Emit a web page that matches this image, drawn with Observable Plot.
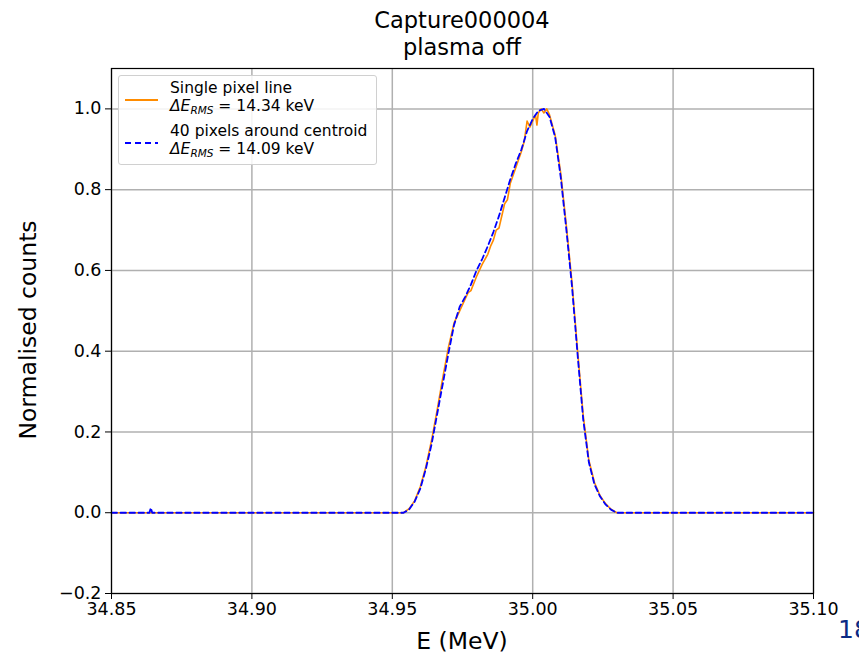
<!DOCTYPE html>
<html><head><meta charset="utf-8">
<script src="https://cdn.jsdelivr.net/npm/d3@7"></script>
<script src="https://cdn.jsdelivr.net/npm/@observablehq/plot@0.6"></script>
<style>
body{margin:0;background:#fff;font-family:"DejaVu Sans",sans-serif;}
#wrap{position:relative;width:859px;height:656px;overflow:hidden;}
.t{position:absolute;white-space:nowrap;color:#000;line-height:1;}
</style></head><body><div id="wrap"></div>
<script>
// Single pixel line (orange)
const singleE = [34.85,34.954,34.956,34.958,34.960,34.962,34.964,34.966,34.968,34.970,34.972,34.974,34.976,34.977,34.978,34.980,34.982,34.984,34.985,34.986,34.987,34.988,34.990,34.991,34.992,34.994,34.996,34.997,34.998,34.999,35.000,35.001,35.0015,35.002,35.003,35.004,35.005,35.006,35.008,35.010,35.012,35.014,35.016,35.018,35.020,35.022,35.024,35.026,35.028,35.030,35.10];
const singleY = [0,0,0.01,0.03,0.065,0.115,0.18,0.255,0.335,0.41,0.47,0.5,0.53,0.545,0.55,0.585,0.615,0.64,0.66,0.675,0.70,0.705,0.765,0.775,0.815,0.855,0.895,0.92,0.97,0.955,0.97,0.985,0.96,0.99,1.0,0.99,1.0,0.985,0.935,0.84,0.71,0.57,0.40,0.24,0.13,0.075,0.042,0.022,0.008,0,0];
// 40 pixels around centroid (blue dashed)
const avgE = [34.85,34.8635,34.864,34.8645,34.954,34.956,34.958,34.960,34.962,34.964,34.966,34.968,34.970,34.972,34.974,34.976,34.978,34.980,34.982,34.984,34.986,34.988,34.990,34.992,34.994,34.996,34.998,35.000,35.002,35.004,35.006,35.008,35.010,35.012,35.014,35.016,35.018,35.020,35.022,35.024,35.026,35.028,35.030,35.10];
const avgY = [0,0,0.012,0,0,0.008,0.028,0.06,0.11,0.17,0.245,0.32,0.395,0.465,0.51,0.535,0.565,0.60,0.628,0.66,0.695,0.735,0.78,0.825,0.865,0.90,0.945,0.975,0.995,1.0,0.98,0.93,0.83,0.70,0.56,0.39,0.23,0.125,0.07,0.04,0.02,0.007,0,0];
const xTicks = [34.85,34.90,34.95,35.00,35.05,35.10];
const yTicks = [-0.2,0.0,0.2,0.4,0.6,0.8,1.0];

const single = singleE.map((e,i)=>({e, y: singleY[i]}));
const avg = avgE.map((e,i)=>({e, y: avgY[i]}));

const plot = Plot.plot({
  width: 859, height: 656,
  marginTop: 68, marginLeft: 111, marginRight: 46, marginBottom: 63,
  style: {fontFamily: "DejaVu Sans, sans-serif", fontSize: "17px", color: "#000", background: "#fff"},
  x: {domain: [34.85, 35.10], label: null},
  y: {domain: [-0.2, 1.1], label: null},
  marks: [
    Plot.gridX(xTicks, {stroke: "#b0b0b0", strokeOpacity: 1, strokeWidth: 1.5}),
    Plot.gridY(yTicks, {stroke: "#b0b0b0", strokeOpacity: 1, strokeWidth: 1.5}),
    Plot.line(single, {x: "e", y: "y", stroke: "#ff8c00", strokeWidth: 1.6}),
    Plot.line(avg, {x: "e", y: "y", stroke: "blue", strokeWidth: 1.8, strokeDasharray: "5.5,3.5"}),
    Plot.axisX({ticks: xTicks, tickFormat: d3.format(".2f"), tickSize: 6, tickPadding: 3, fontSize: 17.5, label: null}),
    Plot.axisY({ticks: yTicks, tickFormat: d3.format(".1f"), tickSize: 6, tickPadding: 4, fontSize: 17.5, label: null}),
    Plot.frame({stroke: "#000", strokeWidth: 1.2})
  ]
});
const wrap = document.getElementById("wrap");
wrap.appendChild(plot);
plot.style.position = "absolute"; plot.style.left = "0"; plot.style.top = "0";

function addText(html, css){
  const d = document.createElement("div");
  d.className = "t"; d.innerHTML = html;
  Object.assign(d.style, css);
  wrap.appendChild(d);
  return d;
}
addText("Capture000004", {left: "462px", top: "9px", transform: "translateX(-50%)", fontSize: "22.5px"});
addText("plasma off", {left: "462px", top: "36px", transform: "translateX(-50%)", fontSize: "22.5px"});
addText("E (MeV)", {left: "462px", top: "630px", transform: "translateX(-50%)", fontSize: "23.5px"});
addText("Normalised counts", {left: "29px", top: "330px", transform: "translate(-50%,-50%) rotate(-90deg)", fontSize: "23.5px"});
addText("18", {left: "838px", top: "617px", fontSize: "25px", color: "#0b2a84"});

// legend
const leg = document.createElement("div");
Object.assign(leg.style, {position: "absolute", left: "118px", top: "75px", width: "259px", height: "90px",
  border: "1px solid #d0d0d0", borderRadius: "3px", background: "rgba(255,255,255,0.85)", boxSizing: "border-box"});
wrap.appendChild(leg);
const lsz = "15.5px";
const rms = '<i>ΔE</i><sub style="font-size:10.5px;font-style:italic;vertical-align:-3px">RMS</sub>';
addText("Single pixel line", {left: "170px", top: "81px", fontSize: lsz});
addText(rms + " = 14.34 keV", {left: "170px", top: "99px", fontSize: lsz});
addText("40 pixels around centroid", {left: "170px", top: "124px", fontSize: lsz});
addText(rms + " = 14.09 keV", {left: "170px", top: "142px", fontSize: lsz});
const l1 = document.createElement("div");
Object.assign(l1.style, {position: "absolute", left: "125px", top: "99px", width: "33px", height: "2px", background: "#ff8c00"});
wrap.appendChild(l1);
const l2 = document.createElement("div");
Object.assign(l2.style, {position: "absolute", left: "125px", top: "142px", width: "33px", height: "2px",
  background: "repeating-linear-gradient(90deg, blue 0 6px, transparent 6px 10px)"});
wrap.appendChild(l2);
</script></body></html>
